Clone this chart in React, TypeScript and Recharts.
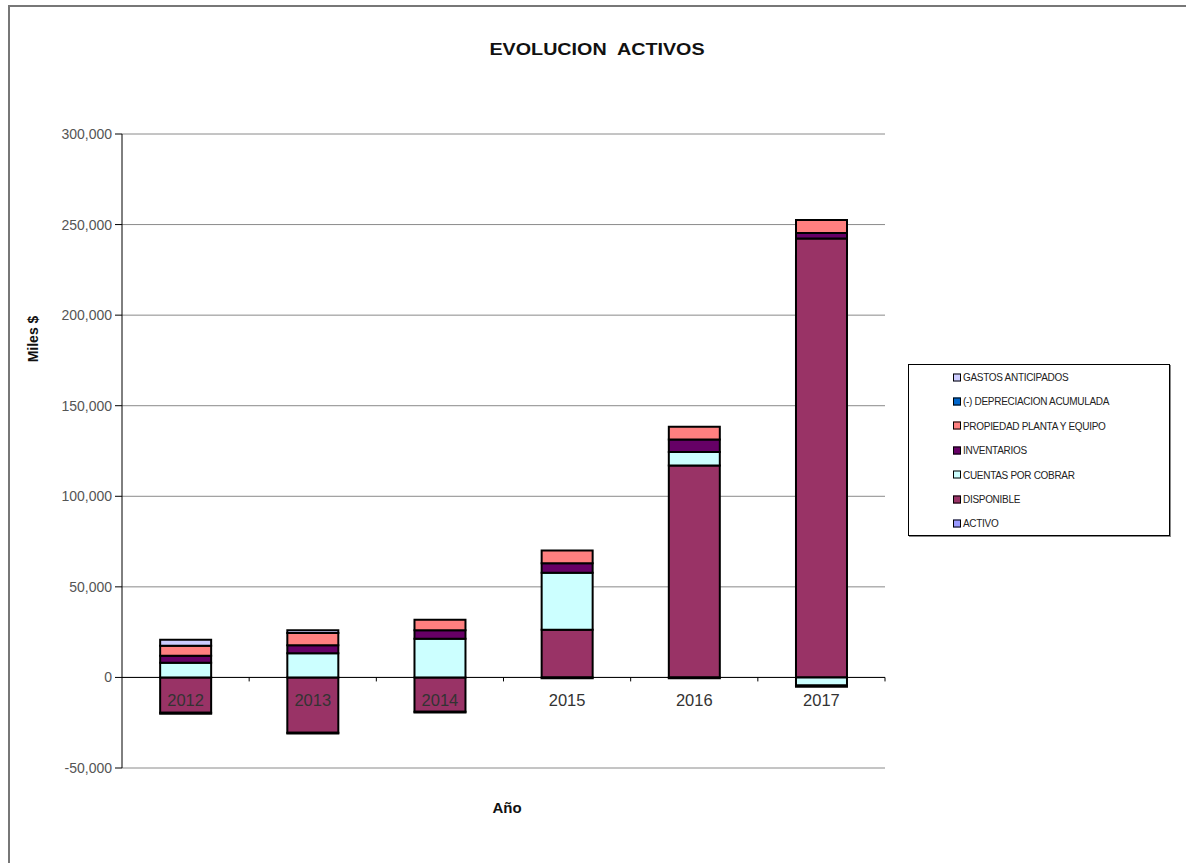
import React from 'react'
import { BarChart, Bar, XAxis, YAxis, CartesianGrid, ReferenceLine } from 'recharts'

const years = ['2012', '2013', '2014', '2015', '2016', '2017']

const activo = [0, 0, 0, 0, 0, 0]
const disponible = [-19500, -30500, -19000, 26300, 117000, 242300]
const cuentasPorCobrar = [8100, 13300, 21400, 31500, 7500, -4500]
const inventarios = [3900, 4400, 4700, 5300, 6900, 3000]
const propiedadPlanta = [5500, 6800, 5800, 7000, 7000, 7200]
const depreciacion = [-500, -500, -400, -400, -500, -700]
const gastosAnticipados = [3300, 1500, 0, 0, 0, 0]

const yTicks = [-50000, 0, 50000, 100000, 150000, 200000, 250000, 300000]
const Y_MIN = -50000
const Y_MAX = 300000

// orden de apilado, de abajo hacia arriba
const SERIES = [
  { key: 'activo', name: 'ACTIVO', values: activo, color: '#9999FF' },
  { key: 'disponible', name: 'DISPONIBLE', values: disponible, color: '#993366' },
  { key: 'cuentas', name: 'CUENTAS POR COBRAR', values: cuentasPorCobrar, color: '#CCFFFF' },
  { key: 'inventarios', name: 'INVENTARIOS', values: inventarios, color: '#660066' },
  { key: 'propiedad', name: 'PROPIEDAD PLANTA Y EQUIPO', values: propiedadPlanta, color: '#FF8080' },
  { key: 'depreciacion', name: '(-) DEPRECIACION ACUMULADA', values: depreciacion, color: '#0066CC' },
  { key: 'gastos', name: 'GASTOS ANTICIPADOS', values: gastosAnticipados, color: '#CCCCFF' },
]

const data = years.map((year, i) => {
  const row: Record<string, string | number> = { year }
  SERIES.forEach((s) => {
    row[s.key] = s.values[i]
  })
  return row
})

const CHART_W = 900
const CHART_H = 800
const MARGIN = { top: 134, right: 15, bottom: 2, left: 52 }
const Y_AXIS_W = 70
const X_AXIS_H = 30
const PLOT_H = CHART_H - MARGIN.top - MARGIN.bottom - X_AXIS_H
const PLOT_W = CHART_W - MARGIN.left - MARGIN.right - Y_AXIS_W
const ZERO_Y = MARGIN.top + (PLOT_H * Y_MAX) / (Y_MAX - Y_MIN)
const BAND = PLOT_W / years.length

const FONT = '"Liberation Sans", Arial, sans-serif'

// etiquetas de año sobre la linea de cero, como en Excel
function YearTick({ x, payload }: any) {
  return (
    <g>
      <line x1={x + BAND / 2} x2={x + BAND / 2} y1={ZERO_Y} y2={ZERO_Y + 4} stroke="#000" />
      <text
        x={x}
        y={ZERO_Y + 29}
        textAnchor="middle"
        fontSize={16.5}
        fontFamily={FONT}
        fill="#333"
      >
        {payload.value}
      </text>
    </g>
  )
}

export default function App() {
  const legendItems = [...SERIES].reverse()

  return (
    <div style={{ position: 'fixed', left: 0, top: 0, width: 1186, height: 863, background: '#fff', fontFamily: FONT }}>
      <div
        style={{
          position: 'absolute',
          left: 8,
          top: 5,
          width: 1176,
          height: 900,
          borderTop: '2px solid #777',
          borderLeft: '2px solid #777',
          borderRight: '2px solid #777',
        }}
      />

      <div
        style={{
          position: 'absolute',
          left: 597,
          top: 50,
          transform: 'translate(-50%, -50%) scaleX(1.16)',
          fontWeight: 'bold',
          fontSize: 17,
          whiteSpace: 'pre',
          color: '#111',
        }}
      >
        {'EVOLUCION  ACTIVOS'}
      </div>

      <div
        style={{
          position: 'absolute',
          left: 33,
          top: 339,
          transform: 'translate(-50%, -50%) rotate(-90deg)',
          fontWeight: 'bold',
          fontSize: 14,
          whiteSpace: 'nowrap',
          color: '#111',
        }}
      >
        Miles $
      </div>

      <div
        style={{
          position: 'absolute',
          left: 507,
          top: 807,
          transform: 'translate(-50%, -50%)',
          fontWeight: 'bold',
          fontSize: 15,
          color: '#111',
        }}
      >
        Año
      </div>

      <div style={{ position: 'absolute', left: 0, top: 0 }}>
        <BarChart
          width={CHART_W}
          height={CHART_H}
          data={data}
          margin={MARGIN}
          stackOffset="sign"
          barCategoryGap="30%"
        >
          <CartesianGrid vertical={false} stroke="#8a8a8a" />
          <XAxis
            dataKey="year"
            height={X_AXIS_H}
            axisLine={false}
            tickLine={false}
            tick={<YearTick />}
            interval={0}
          />
          <YAxis
            width={Y_AXIS_W}
            domain={[Y_MIN, Y_MAX]}
            ticks={yTicks}
            interval={0}
            allowDataOverflow
            tickSize={7}
            tickMargin={3}
            stroke="#000"
            tick={{ fontSize: 14, fill: '#555', fontFamily: FONT }}
            tickFormatter={(v: number) => v.toLocaleString('en-US')}
          />
          {SERIES.map((s) => (
            <Bar
              key={s.key}
              dataKey={s.key}
              name={s.name}
              stackId="a"
              fill={s.color}
              stroke="#000"
              strokeWidth={2}
              isAnimationActive={false}
            />
          ))}
          <ReferenceLine y={0} stroke="#000" />
        </BarChart>
      </div>

      <div
        style={{
          position: 'absolute',
          left: 908,
          top: 364,
          width: 260,
          height: 170,
          border: '1px solid #000',
          boxShadow: '1px 1px 0 #888',
          background: '#fff',
        }}
      >
        {legendItems.map((s, i) => (
          <div
            key={s.key}
            style={{
              position: 'absolute',
              left: 44,
              top: 12 + i * 24.4,
              transform: 'translateY(-50%)',
              display: 'flex',
              alignItems: 'center',
              whiteSpace: 'nowrap',
              fontSize: 10,
              letterSpacing: -0.3,
              color: '#222',
            }}
          >
            <span
              style={{
                display: 'inline-block',
                width: 6,
                height: 6,
                background: s.color,
                border: '1px solid #000',
                marginRight: 2,
              }}
            />
            {s.name}
          </div>
        ))}
      </div>
    </div>
  )
}
